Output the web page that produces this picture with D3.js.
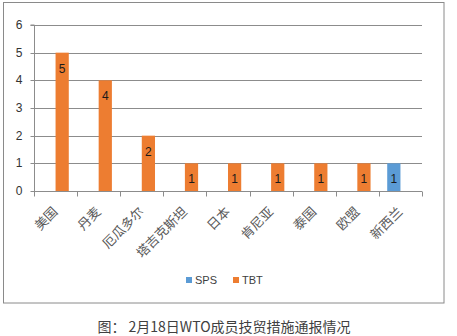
<!DOCTYPE html>
<html><head><meta charset="utf-8">
<script src="https://cdn.jsdelivr.net/npm/d3@7"></script>
<style>body{margin:0;background:#fff;}svg{display:block;}</style>
</head><body>
<svg id="c" width="457" height="336"></svg>
<script>
const categories = ["美国","丹麦","厄瓜多尔","塔吉克斯坦","日本","肯尼亚","泰国","欧盟","新西兰"];
const seriesNames = ["SPS","TBT"];
const spsValues = [0,0,0,0,0,0,0,0,1];
const tbtValues = [5,4,2,1,1,1,1,1,0];
const yTicks = [0,1,2,3,4,5,6];
const colors = {SPS:"#5B9BD5", TBT:"#ED7D31"};
const caption = "图： 2月18日WTO成员技贸措施通报情况";

(function(){
const svg = d3.select("#c");
const pL = 34, pR = 422, pT = 25, pB = 191;
svg.append("rect").attr("x",3.5).attr("y",2.5).attr("width",440.5).attr("height",300.5)
  .attr("fill","#fff").attr("stroke","#8a8a8a").attr("stroke-width",1);

const x = d3.scaleBand().domain(categories).range([pL,pR]).padding(0);
const xi = d3.scaleBand().domain(seriesNames).range([0,x.bandwidth()]).paddingInner(0).paddingOuter(0.63);
const y = d3.scaleLinear().domain([0,6]).range([pB,pT]);

// gridlines
svg.append("g").selectAll("line").data(yTicks.filter(d=>d>0)).join("line")
  .attr("x1",pL).attr("x2",pR).attr("y1",d=>Math.round(y(d))+0.5).attr("y2",d=>Math.round(y(d))+0.5)
  .attr("stroke","#8c8c8c").attr("stroke-width",1);

// y axis
const ya = svg.append("g").attr("transform",`translate(${pL+0.5},0)`)
  .call(d3.axisLeft(y).tickValues(yTicks).tickSize(4).tickPadding(8).tickFormat(d3.format("d")));
ya.select(".domain").attr("stroke","#8c8c8c").attr("d",`M-4,${y(6)}H0V${y(0)}`);
ya.selectAll(".tick line").attr("stroke","#8c8c8c");
ya.selectAll(".tick text").attr("fill","#333").attr("font-size","12px").attr("font-family","Arial, 'Liberation Sans', sans-serif");
ya.selectAll(".tick").attr("transform",d=>`translate(0,${Math.round(y(d))+0.5})`);

// x axis
const xa = svg.append("g").attr("transform",`translate(0,${pB+0.5})`);
xa.append("line").attr("x1",pL).attr("x2",pR).attr("stroke","#8c8c8c");
const bounds = categories.map(c=>x(c)).concat([pR]);
xa.selectAll("line.t").data(bounds).join("line").attr("class","t")
  .attr("x1",d=>Math.round(d)+0.5).attr("x2",d=>Math.round(d)+0.5).attr("y1",0).attr("y2",5).attr("stroke","#8c8c8c");
xa.selectAll("text").data(categories).join("text")
  .attr("transform",d=>`translate(${x(d)+x.bandwidth()/2+3},${21}) rotate(-45)`)
  .attr("text-anchor","end").attr("fill","#595959").attr("font-size","13px")
  .attr("font-family","'Noto Sans CJK SC', sans-serif").text(d=>d);

// bars
const rows = categories.map((c,i)=>({c, SPS:spsValues[i], TBT:tbtValues[i]}));
const flat = [];
rows.forEach(r=>seriesNames.forEach(s=>{ if(r[s]>0) flat.push({c:r.c,s,v:r[s]}); }));
svg.append("g").selectAll("rect").data(flat).join("rect")
  .attr("x",d=>x(d.c)+xi(d.s)).attr("width",xi.bandwidth())
  .attr("y",d=>y(d.v)).attr("height",d=>y(0)-y(d.v)).attr("fill",d=>colors[d.s]);
svg.append("g").selectAll("text").data(flat).join("text")
  .attr("x",d=>x(d.c)+xi(d.s)+xi.bandwidth()/2).attr("y",d=>y(d.v)+20)
  .attr("text-anchor","middle").attr("font-size","12px").attr("fill","#1a1a1a")
  .attr("font-family","Arial, 'Liberation Sans', sans-serif").text(d=>d.v);

// legend
const lg = svg.append("g");
const lx = [186,233];
seriesNames.forEach((s,i)=>{
  lg.append("rect").attr("x",lx[i]).attr("y",277).attr("width",6).attr("height",6).attr("fill",colors[s]);
  lg.append("text").attr("x",lx[i]+9).attr("y",283.5).attr("font-size","11px").attr("fill","#404040")
    .attr("font-family","Arial, 'Liberation Sans', sans-serif").text(s);
});

// caption
svg.append("text").attr("x",224).attr("y",332).attr("text-anchor","middle")
  .attr("font-size","14px").attr("fill","#404040")
  .attr("font-family","'Noto Sans CJK SC', sans-serif").text(caption);
})();
</script>
</body></html>
